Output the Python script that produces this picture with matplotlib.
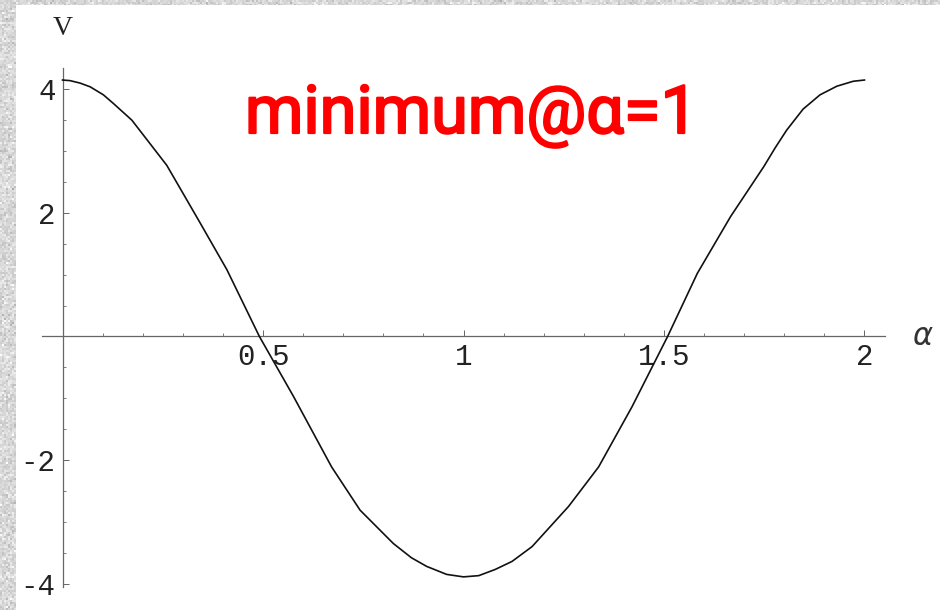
# potentiel.py — Potentiel V(alpha), minimum en alpha = 1

import numpy as np
import matplotlib
matplotlib.use("Agg")
import matplotlib.pyplot as plt
import matplotlib.patheffects as pe
from matplotlib.patches import Rectangle

# Données
alpha = [0.0, 0.019, 0.044, 0.069, 0.102, 0.127, 0.173, 0.26, 0.343, 0.41,
         0.491, 0.576, 0.671, 0.742, 0.825, 0.87, 0.908, 0.958, 1.0, 1.038,
         1.079, 1.121, 1.171, 1.262, 1.337, 1.42, 1.509, 1.583, 1.666, 1.749,
         1.777, 1.806, 1.847, 1.889, 1.931, 1.972, 2.0]
V = [4.15, 4.14, 4.10, 4.04, 3.91, 3.77, 3.50, 2.77, 1.84, 1.08,
     0.0, -0.97, -2.11, -2.81, -3.35, -3.58, -3.72, -3.85, -3.89, -3.87,
     -3.77, -3.64, -3.40, -2.75, -2.11, -1.14, 0.0, 1.02, 1.94, 2.75,
     3.05, 3.34, 3.68, 3.91, 4.05, 4.13, 4.15]

# Graduations
x_major = [0.5, 1, 1.5, 2]
x_labels = ["0.5", "1", "1.5", "2"]
x_minor = [0.1, 0.2, 0.3, 0.4, 0.6, 0.7, 0.8, 0.9, 1.1, 1.2, 1.3, 1.4,
           1.6, 1.7, 1.8, 1.9]
y_major = [4, 2, -2, -4]
y_labels = ["4", "2", "-2", "-4"]
y_minor = [3.5, 3, 2.5, 1.5, 1, 0.5, -0.5, -1, -1.5, -2.5, -3, -3.5]

annotation = "minimum@α=1"

# Couleurs
_COL_CURVE = "#111111"
_COL_AXIS = "#666666"
_COL_TEXT = "#222222"
_COL_RED = "#ff0000"

plt.rcParams["axes.unicode_minus"] = False

fig = plt.figure(figsize=(9.4, 6.1), dpi=100)

# Fond granité gris, puis zone blanche
rng = np.random.default_rng(7)
tex = 0.85 + 0.05 * rng.standard_normal((305, 470))
tex = np.repeat(np.repeat(tex, 2, axis=0), 2, axis=1)
tex = np.clip(tex, 0.65, 1.0)
fig.figimage(np.dstack([tex, tex, tex]), xo=0, yo=0, zorder=-2)
fig.patches.append(Rectangle((16 / 940, 0), 924 / 940, 605 / 610,
                             transform=fig.transFigure, facecolor="white",
                             edgecolor="none", zorder=-1))

ax = fig.add_axes([0, 0, 1, 1])
ax.set_zorder(1)
ax.patch.set_visible(False)
ax.set_xlim(-0.1559, 2.1883)
ax.set_ylim(-4.426, 5.445)

ax.plot(alpha, V, color=_COL_CURVE, lw=1.2, zorder=3)

# Axes croisés à l'origine, style Mathematica
for side in ("top", "right"):
    ax.spines[side].set_visible(False)
ax.spines["left"].set_position(("data", 0))
ax.spines["bottom"].set_position(("data", 0))
ax.spines["left"].set_bounds(-4.05, 4.34)
ax.spines["bottom"].set_bounds(-0.05, 2.05)
for side in ("left", "bottom"):
    ax.spines[side].set_color(_COL_AXIS)
    ax.spines[side].set_linewidth(0.9)

ax.set_xticks(x_major)
ax.set_xticklabels(x_labels)
ax.set_xticks(x_minor, minor=True)
ax.set_yticks(y_major)
ax.set_yticklabels(y_labels)
ax.set_yticks(y_minor, minor=True)

ax.tick_params(which="major", direction="in", length=4.5, width=0.7,
               color=_COL_AXIS, labelsize=21, labelcolor=_COL_TEXT)
ax.tick_params(which="minor", direction="in", length=2.5, width=0.6,
               color=_COL_AXIS)
ax.tick_params(axis="x", which="major", pad=4.5)
ax.tick_params(axis="y", which="major", pad=5)
for lab in ax.get_xticklabels() + ax.get_yticklabels():
    lab.set_family("Liberation Mono")

# Noms des axes
ax.text(0, 4.976, "V", family="Liberation Serif", fontsize=20,
        color=_COL_TEXT, ha="center", va="center")
ax.text(2.145, 0.0, "α", family="DejaVu Sans", style="italic",
        fontsize=22, color="#333333", ha="center", va="center")

# Annotation en rouge, trait un peu épaissi
ax.text(0.455, 3.293, annotation, family="Roboto", fontsize=48,
        color=_COL_RED, ha="left", va="baseline",
        path_effects=[pe.withStroke(linewidth=1.6, foreground=_COL_RED)])

fig.savefig("out.png", dpi=100)
plt.close(fig)
